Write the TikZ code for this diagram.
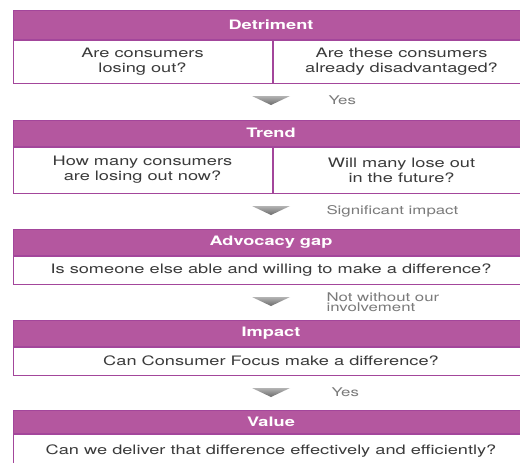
\documentclass[tikz,border=0pt]{standalone}
\usepackage{fontspec}
\setmainfont{TeX Gyre Heros}[FakeStretch=1.4]
\definecolor{plum}{HTML}{B4579F}
\definecolor{plumline}{HTML}{A3469B}
\definecolor{ink}{HTML}{3A3A3A}
\definecolor{notegray}{HTML}{7A7A7A}

\begin{document}
\begin{tikzpicture}[x=1pt,y=-1pt,
    head/.style = {rectangle,
        fill=plum, draw=plumline, line width=1pt,
        minimum width=516pt, inner sep=0pt,
        text=white, font=\fontsize{13}{15}\selectfont\bfseries},
    cell/.style = {rectangle,
        draw=plumline, line width=1pt, inner sep=0pt,
        anchor=north west, align=center,
        text=ink, font=\fontsize{13}{15}\selectfont},
    note/.style = {anchor=west, align=left,
        text=notegray, font=\fontsize{12}{10.5}\selectfont},
    drop/.style = {top color=black!30, bottom color=black!58}]

\fill[white] (0,0) rectangle (520,463);
\useasboundingbox (0,0) rectangle (520,463);

% Detriment
\node[head, minimum height=29pt] (det) at (271,24.5) {Detriment};
\node[cell, minimum width=259pt, minimum height=43pt] (detL) at (det.south west)
    {Are consumers\\losing out?};
\node[cell, minimum width=257pt, minimum height=43pt] (detR) at (detL.north east)
    {Are these consumers\\already disadvantaged?};

\coordinate (d1) at (271,96);
\shade[drop] (d1) ++(-19,0) -- ++(38,0) -- ++(-19,9) -- cycle;
\node[note] (yes1) at (325,100) {Yes};

% Trend
\node[head, minimum height=26pt] (trend) at (271,133) {Trend};
\node[cell, minimum width=259pt, minimum height=46pt] (trendL) at (trend.south west)
    {How many consumers\\are losing out now?};
\node[cell, minimum width=257pt, minimum height=46pt] (trendR) at (trendL.north east)
    {Will many lose out\\in the future?};

\coordinate (d2) at (271,206);
\shade[drop] (d2) ++(-19,0) -- ++(38,0) -- ++(-19,9) -- cycle;
\node[note] (sig) at (323,211) {Significant impact};

% Advocacy gap
\node[head, minimum height=26pt] (gap) at (271,242) {Advocacy gap};
\node[cell, minimum width=516pt, minimum height=28pt] (gapQ) at (gap.south west)
    {Is someone else able and willing to make a difference?};

\coordinate (d3) at (271,297);
\shade[drop] (d3) ++(-19,0) -- ++(38,0) -- ++(-19,9) -- cycle;
\node[note] (notwo) at (323,302) {Not without our\\involvement};

% Impact
\node[head, minimum height=26pt] (imp) at (271,333) {Impact};
\node[cell, minimum width=516pt, minimum height=28pt] (impQ) at (imp.south west)
    {Can Consumer Focus make a difference?};

\coordinate (d4) at (271,388);
\shade[drop] (d4) ++(-19,0) -- ++(38,0) -- ++(-19,9) -- cycle;
\node[note] (yes2) at (328,392) {Yes};

% Value
\node[head, minimum height=23pt] (val) at (271,421.5) {Value};
\node[cell, minimum width=516pt, minimum height=34pt] (valQ) at (val.south west)
    {Can we deliver that difference effectively and efficiently?};
\end{tikzpicture}
\end{document}
